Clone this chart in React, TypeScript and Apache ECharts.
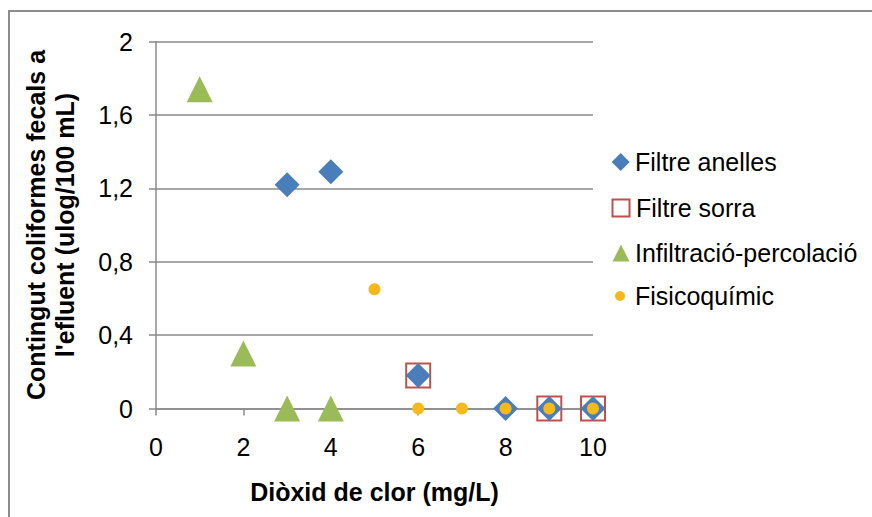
import React, { useEffect, useRef } from "react";
import * as echarts from "echarts";

// Chlorine dioxide dose (mg/L) vs faecal coliform content in the effluent
const anelles: [number, number][] = [[3, 1.22], [4, 1.29], [6, 0.18], [8, 0], [9, 0], [10, 0]];
const sorra: [number, number][] = [[6, 0.18], [9, 0], [10, 0]];
const infiltracio: [number, number][] = [[1, 1.74], [2, 0.3], [3, 0], [4, 0]];
const fisicoquimic: [number, number][] = [[5, 0.65], [6, 0], [7, 0], [8, 0], [9, 0], [10, 0]];

const seriesNames = ["Filtre anelles", "Filtre sorra", "Infiltració-percolació", "Fisicoquímic"];
const xTickLabels = ["0", "2", "4", "6", "8", "10"];
const yTickLabels = ["0", "0,4", "0,8", "1,2", "1,6", "2"];

const FONT = "'Liberation Sans', Arial, sans-serif";
const GRID = "#8a8a8a";

export default function App() {
  const ref = useRef<HTMLDivElement>(null);

  useEffect(() => {
    if (!ref.current) return;
    const chart = echarts.init(ref.current, null, { renderer: "svg" });

    // one legend block per series so each icon gets its own size
    const legendRows = [162, 208, 253, 296];
    const iconCx = [620.7, 620, 621, 620];
    const iconSize = [18, 17, 17, 10];
    const textLeft = 635;
    const legends = seriesNames.map((name, i) => {
      const left = iconCx[i] - iconSize[i] / 2;
      const pad = Math.max(0, textLeft - (left + iconSize[i] + 5));
      return {
        data: [name],
        left,
        top: legendRows[i] - 12.5,
        itemWidth: iconSize[i],
        itemHeight: iconSize[i],
        itemGap: 0,
        padding: 0,
        selectedMode: false,
        textStyle: {
          fontFamily: FONT,
          fontSize: 25,
          color: "#000",
          lineHeight: 25,
          padding: [0, 0, 0, pad],
        },
      };
    });

    chart.setOption({
      animation: false,
      backgroundColor: "#fff",
      graphic: [
        {
          type: "rect",
          silent: true,
          z: -10,
          shape: { x: 9, y: 11, width: 900, height: 600 },
          style: { fill: "none", stroke: "#8c8c8c", lineWidth: 2 },
        },
      ],
      legend: legends,
      grid: { left: 156, right: 279, top: 41.5, bottom: 108.5, containLabel: false },
      xAxis: {
        type: "value",
        min: 0,
        max: 10,
        interval: 2,
        name: "Diòxid de clor (mg/L)",
        nameLocation: "middle",
        nameGap: 71,
        nameTextStyle: { fontFamily: FONT, fontSize: 25, fontWeight: "bold", color: "#000" },
        axisLine: { show: true, lineStyle: { color: GRID, width: 1.5 } },
        axisTick: { show: true, length: 7, lineStyle: { color: GRID, width: 1.5 } },
        axisLabel: {
          margin: 26,
          fontFamily: FONT,
          fontSize: 25,
          color: "#000",
          formatter: (_v: number, i: number) => xTickLabels[i],
        },
        splitLine: { show: false },
      },
      yAxis: {
        type: "value",
        min: 0,
        max: 2,
        interval: 0.4,
        name: "Contingut coliformes fecals a\nl'efluent (ulog/100 mL)",
        nameLocation: "middle",
        nameRotate: 90,
        nameGap: 77,
        nameTextStyle: {
          fontFamily: FONT,
          fontSize: 25,
          fontWeight: "bold",
          color: "#000",
          lineHeight: 29,
        },
        axisLine: { show: true, lineStyle: { color: GRID, width: 1.5 } },
        axisTick: { show: true, length: 7, lineStyle: { color: GRID, width: 1.5 } },
        axisLabel: {
          margin: 23,
          fontFamily: FONT,
          fontSize: 25,
          color: "#000",
          formatter: (_v: number, i: number) => yTickLabels[i],
        },
        splitLine: { show: true, lineStyle: { color: GRID, width: 1.5 } },
      },
      series: [
        {
          name: seriesNames[1],
          type: "scatter",
          data: sorra,
          symbol: "rect",
          symbolSize: 24,
          itemStyle: {
            color: "rgba(255,255,255,0)",
            borderColor: "#C0504D",
            borderWidth: 2,
            opacity: 1,
          },
          z: 2,
        },
        {
          name: seriesNames[0],
          type: "scatter",
          data: anelles,
          symbol: "diamond",
          symbolSize: 25,
          itemStyle: { color: "#4A7EBB", opacity: 1 },
          z: 3,
        },
        {
          name: seriesNames[2],
          type: "scatter",
          data: infiltracio,
          symbol: "triangle",
          symbolSize: 26,
          itemStyle: { color: "#9BBB59", opacity: 1 },
          z: 4,
        },
        {
          name: seriesNames[3],
          type: "scatter",
          data: fisicoquimic,
          symbol: "circle",
          symbolSize: 12,
          itemStyle: { color: "#F6B91C", opacity: 1 },
          z: 5,
        },
      ],
    });

    return () => chart.dispose();
  }, []);

  return (
    <div
      ref={ref}
      style={{ position: "fixed", left: 0, top: 0, width: 872, height: 517 }}
    />
  );
}
